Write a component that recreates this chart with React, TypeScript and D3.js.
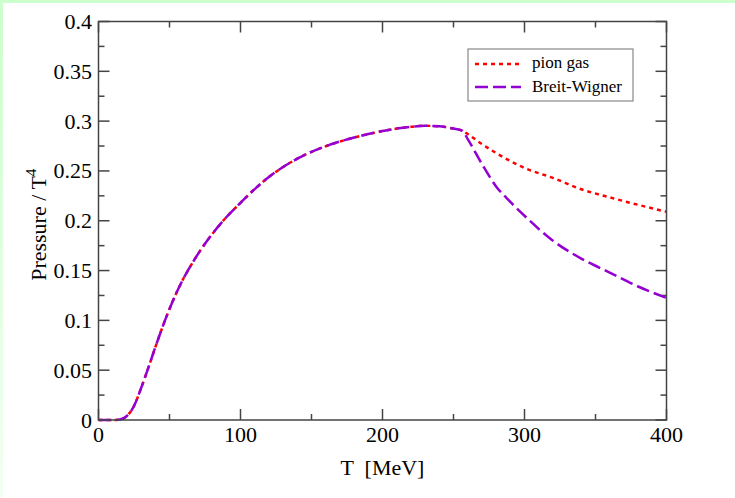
import React from "react";
import * as d3 from "d3";

const temps = [0, 10, 15, 20, 25, 30, 35, 40, 45, 50, 55, 60, 65, 70, 75, 80, 90, 100, 110, 120, 130, 140, 150, 160, 170, 180, 190, 200, 210, 220, 230, 240, 250, 256, 260, 270, 280, 290, 300, 320, 340, 360, 380, 400];
const pionGas = [0, 0, 0.0005, 0.004, 0.014, 0.032, 0.052, 0.073, 0.093, 0.1115, 0.128, 0.1425, 0.155, 0.1665, 0.177, 0.1865, 0.2035, 0.218, 0.2318, 0.244, 0.254, 0.2623, 0.2692, 0.2748, 0.2795, 0.2835, 0.287, 0.29, 0.2925, 0.2943, 0.2953, 0.2948, 0.2925, 0.2905, 0.287, 0.277, 0.268, 0.26, 0.253, 0.243, 0.2316, 0.2235, 0.216, 0.209];
const breitWigner = [0, 0, 0.0005, 0.004, 0.014, 0.032, 0.052, 0.073, 0.093, 0.1115, 0.128, 0.1425, 0.155, 0.1665, 0.177, 0.1865, 0.2035, 0.218, 0.2318, 0.244, 0.254, 0.2623, 0.2692, 0.2748, 0.2795, 0.2835, 0.287, 0.29, 0.2925, 0.2943, 0.2953, 0.2948, 0.2925, 0.2905, 0.282, 0.257, 0.2345, 0.219, 0.205, 0.18, 0.162, 0.148, 0.134, 0.1225];
const xTicks = [0, 100, 200, 300, 400];
const xMinor = [50, 150, 250, 350];
const yTicks = [0, 0.05, 0.1, 0.15, 0.2, 0.25, 0.3, 0.35, 0.4];
const yMinor = [0.025, 0.075, 0.125, 0.175, 0.225, 0.275, 0.325, 0.375];
const yTickLabels = ["0", "0.05", "0.1", "0.15", "0.2", "0.25", "0.3", "0.35", "0.4"];
const legendLabels = ["pion gas", "Breit-Wigner"];

export default function App() {
  const W = 735, H = 498;
  const L = 98.5, R = 666.5, T = 21.5, B = 420;
  const x = d3.scaleLinear().domain([0, 400]).range([L, R]);
  const y = d3.scaleLinear().domain([0, 0.4]).range([B, T]);
  const line = (vals: number[]) =>
    d3.line<number>().x((_, i) => x(temps[i])).y((v) => y(v)).curve(d3.curveMonotoneX)(vals) || "";
  const tf = { fontFamily: '"Liberation Serif", "DejaVu Serif", serif' };
  const frame = "#444";
  const red = "#ff0000";
  const violet = "#9400d3";
  return (
    <svg width={W} height={H} style={{ position: "absolute", left: 0, top: 0, background: "#fff" }}>
      <defs>
        <linearGradient id="lg" x1="0" y1="0" x2="0" y2="1">
          <stop offset="0" stopColor="#ccffcc" />
          <stop offset="1" stopColor="#f2fff2" />
        </linearGradient>
      </defs>
      <rect x={0} y={0} width={W} height={H} fill="#fff" />
      <rect x={0} y={0} width={W} height={3} fill="#ccffcc" />
      <rect x={0} y={0} width={3} height={H} fill="url(#lg)" />
      <g stroke={frame} strokeWidth={1.5}>
        {xTicks.map((t) => (
          <g key={"xt" + t}>
            <line x1={x(t)} x2={x(t)} y1={B} y2={B - 11} />
            <line x1={x(t)} x2={x(t)} y1={T} y2={T + 11} />
          </g>
        ))}
        {xMinor.map((t) => (
          <g key={"xm" + t}>
            <line x1={x(t)} x2={x(t)} y1={B} y2={B - 6} />
            <line x1={x(t)} x2={x(t)} y1={T} y2={T + 6} />
          </g>
        ))}
        {yTicks.map((t) => (
          <g key={"yt" + t}>
            <line x1={L} x2={L + 11} y1={y(t)} y2={y(t)} />
            <line x1={R} x2={R - 11} y1={y(t)} y2={y(t)} />
          </g>
        ))}
        {yMinor.map((t) => (
          <g key={"ym" + t}>
            <line x1={L} x2={L + 6} y1={y(t)} y2={y(t)} />
            <line x1={R} x2={R - 6} y1={y(t)} y2={y(t)} />
          </g>
        ))}
      </g>
      <path d={line(pionGas)} fill="none" stroke={red} strokeWidth={2.5} strokeDasharray="4,4" />
      <path d={line(breitWigner)} fill="none" stroke={violet} strokeWidth={2.5} strokeDasharray="13,5" />
      <rect x={L} y={T} width={R - L} height={B - T} fill="none" stroke={frame} strokeWidth={1.5} />
      {xTicks.map((t) => (
        <text key={"xl" + t} x={x(t)} y={B + 22} fontSize={22} textAnchor="middle" fill="#000" style={tf}>
          {t}
        </text>
      ))}
      {yTicks.map((t, i) => (
        <text key={"yl" + t} x={92} y={y(t) + 7.5} fontSize={22} textAnchor="end" fill="#000" style={tf}>
          {yTickLabels[i]}
        </text>
      ))}
      <text x={(L + R) / 2} y={475} fontSize={22} textAnchor="middle" fill="#000" style={{ ...tf, whiteSpace: "pre" }}>
        {"T  [MeV]"}
      </text>
      <text transform={`translate(46,${(T + B) / 2 + 4}) rotate(-90)`} fontSize={22} textAnchor="middle" fill="#000" style={tf}>
        Pressure / T<tspan dy={-10} fontSize={15}>4</tspan>
      </text>
      <rect x={468} y={49} width={165} height={52} fill="#fff" stroke="#888" strokeWidth={1.2} />
      <line x1={475} x2={521} y1={64} y2={64} stroke={red} strokeWidth={2.5} strokeDasharray="4,4" />
      <line x1={475} x2={521} y1={87} y2={87} stroke={violet} strokeWidth={2.5} strokeDasharray="13,5" />
      <text x={532} y={68} fontSize={17} fill="#000" style={tf}>{legendLabels[0]}</text>
      <text x={532} y={92} fontSize={17} fill="#000" style={tf}>{legendLabels[1]}</text>
    </svg>
  );
}
